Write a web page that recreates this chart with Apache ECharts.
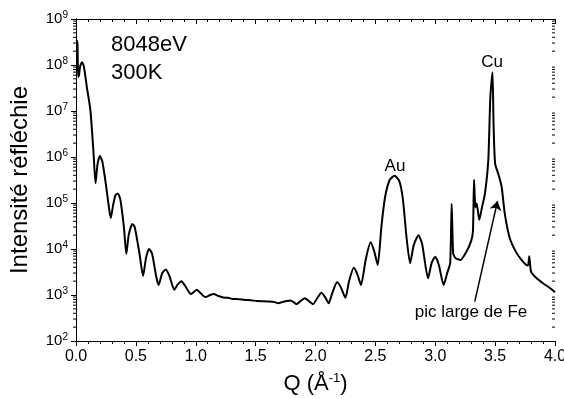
<!DOCTYPE html>
<html>
<head>
<meta charset="utf-8">
<script src="https://cdn.jsdelivr.net/npm/echarts@6/dist/echarts.min.js"></script>
<style>
  html, body { margin: 0; padding: 0; background: #fff; }
  #chart { width: 564px; height: 399px; }
</style>
</head>
<body>
<div id="chart"></div>
<script>
// Q (Å^-1)
const qValues = [
  0.005, 0.012, 0.018, 0.025, 0.035, 0.05, 0.065, 0.09, 0.12, 0.145, 0.163,
  0.18, 0.20, 0.22, 0.25, 0.275, 0.29, 0.31, 0.33, 0.35, 0.37, 0.40, 0.42,
  0.44, 0.47, 0.49, 0.53, 0.56, 0.585, 0.61, 0.635, 0.67, 0.69, 0.72, 0.75,
  0.78, 0.82, 0.85, 0.88, 0.91, 0.96, 0.99, 1.01, 1.04, 1.08, 1.12, 1.15,
  1.19, 1.23, 1.27, 1.31, 1.36, 1.41, 1.46, 1.51, 1.56, 1.61, 1.66, 1.69,
  1.72, 1.76, 1.79, 1.82, 1.84, 1.87, 1.91, 1.94, 1.98, 2.01, 2.05, 2.08,
  2.11, 2.14, 2.18, 2.21, 2.25, 2.28, 2.32, 2.35, 2.38, 2.42, 2.46, 2.49,
  2.52, 2.55, 2.58, 2.62, 2.66, 2.70, 2.73, 2.76, 2.79, 2.82, 2.86, 2.89,
  2.94, 2.97, 3.00, 3.03, 3.07, 3.10, 3.125, 3.137, 3.15, 3.17, 3.21, 3.26,
  3.30, 3.315, 3.324, 3.335, 3.346, 3.368, 3.39, 3.415, 3.443, 3.46, 3.478,
  3.487, 3.50, 3.53, 3.555, 3.58, 3.62, 3.67, 3.72, 3.76, 3.775, 3.785, 3.80,
  3.84, 3.90, 3.96, 4.00
];

// intensité réfléchie
const intensity = [
  3.5e8, 3.0e8, 5.5e7, 6.0e7, 9.5e7, 1.15e8, 9.5e7, 3.4e7, 1.05e7, 1.4e6, 2.7e5,
  7e5, 1.05e6, 8e5, 2.5e5, 8e4, 4.7e4, 9e4, 1.5e5, 1.6e5, 1.2e5, 3e4, 7.8e3,
  2e4, 3.5e4, 3e4, 8e3, 2.6e3, 6.5e3, 1e4, 8e3, 2.5e3, 1.65e3, 3e3, 3.6e3,
  2.6e3, 1.3e3, 1.7e3, 2e3, 1.6e3, 1.05e3, 1.2e3, 1.3e3, 1.1e3, 900, 1000, 1050,
  950, 880, 870, 820, 810, 780, 770, 740, 730, 720, 700, 660,
  700, 740, 760, 690, 630, 720, 850, 760, 630, 820, 1120, 900,
  660, 1100, 1900, 1500, 870, 2000, 3900, 2800, 1650, 6000, 1.4e4, 9e3,
  4.5e3, 3e4, 1.3e5, 3.2e5, 3.9e5, 3.0e5, 1.2e5, 1.8e4, 4.9e3, 1.2e4, 2e4, 1.3e4,
  2.3e3, 5e3, 6.8e3, 4.5e3, 1.65e3, 3e3, 5e3, 9.5e4, 8e3, 6.3e3, 5.8e3, 8.7e3,
  1.5e4, 2.5e4, 3.2e5, 8e4, 9.8e4, 4.3e4, 8e4, 1.6e5, 8.5e5, 2.0e7, 7e7,
  5e6, 7.2e5, 4e5, 2.2e5, 6e4, 1.8e4, 9e3, 5.8e3, 4.5e3, 4.4e3, 7e3, 3.2e3,
  2.4e3, 1.8e3, 1.4e3, 1.15e3
];

// annotations
const arrowFrom = [3.33, 716];
const arrowTo = [3.52, 1.1e5];

// log minor tick positions (2..9 x 10^n)
const minorTickValues = [];
for (let e = 2; e < 9; e++) {
  for (let m = 2; m <= 9; m++) minorTickValues.push(m * Math.pow(10, e));
}

const chart = echarts.init(document.getElementById('chart'));
const font = 'Liberation Sans, Arial, sans-serif';

const seriesData = qValues.map((q, i) => [q, intensity[i]]);

const xBase = {
  type: 'value',
  min: 0,
  max: 4,
  interval: 0.5,
  splitLine: { show: false },
  axisLine: { lineStyle: { color: '#000', width: 1 } },
  minorTick: { show: true, splitNumber: 5, length: 3, lineStyle: { color: '#000' } }
};
const yBase = {
  type: 'log',
  logBase: 10,
  min: 1e2,
  max: 1e9,
  splitLine: { show: false },
  axisLine: { lineStyle: { color: '#000', width: 1 } },
  minorTick: { show: false }
};

const option = {
  backgroundColor: '#fff',
  animation: false,
  grid: { left: 76, right: 9, top: 19, bottom: 58, outerBoundsMode: 'none', containLabel: false },
  xAxis: [
    Object.assign({}, xBase, {
      position: 'bottom',
      name: 'Q (Å{sup|-1})',
      nameLocation: 'middle',
      nameGap: 31,
      nameTextStyle: {
        fontFamily: font, fontSize: 22, color: '#000',
        rich: { sup: { fontSize: 13, fontFamily: font, padding: [0, 0, 10, 0] } }
      },
      axisTick: { inside: false, length: 5, lineStyle: { color: '#000' } },
      axisLabel: { fontFamily: font, fontSize: 16, color: '#000', margin: 8,
        formatter: v => v.toFixed(1) }
    }),
    Object.assign({}, xBase, {
      position: 'top',
      axisTick: { inside: true, length: 5, lineStyle: { color: '#000' } },
      axisLabel: { show: false }
    })
  ],
  yAxis: [
    Object.assign({}, yBase, {
      position: 'left',
      name: 'Intensité réfléchie',
      nameLocation: 'middle',
      nameGap: 44,
      nameTextStyle: { fontFamily: font, fontSize: 24, color: '#000' },
      axisTick: { inside: false, length: 5, lineStyle: { color: '#000' } },
      axisLabel: {
        fontFamily: font, fontSize: 15, color: '#000', margin: 8,
        formatter: v => '10{sup|' + Math.round(Math.log10(v)) + '}',
        rich: { sup: { fontSize: 10, fontFamily: font, color: '#000', padding: [0, 0, 8, 0] } }
      }
    }),
    Object.assign({}, yBase, {
      position: 'right',
      axisTick: { inside: true, length: 5, lineStyle: { color: '#000' } },
      axisLabel: { show: false }
    })
  ],
  series: [
    {
      type: 'line',
      xAxisIndex: 0,
      yAxisIndex: 0,
      data: seriesData,
      showSymbol: false,
      smooth: 0.2,
      lineStyle: { color: '#000', width: 2 },
      markLine: {
        silent: true,
        symbol: ['none', 'arrow'],
        symbolSize: 9,
        label: { show: false },
        lineStyle: { color: '#000', width: 1.5, type: 'solid' },
        data: [[{ coord: arrowFrom }, { coord: arrowTo }]]
      }
    },
    {
      // log minor ticks, left outward and right inward
      type: 'custom',
      xAxisIndex: 0,
      yAxisIndex: 0,
      silent: true,
      clip: false,
      data: minorTickValues.map(v => [0, v]),
      renderItem: (params, api) => {
        const v = api.value(1);
        const l = api.coord([0, v]);
        const r = api.coord([4, v]);
        const st = { stroke: '#000', lineWidth: 1 };
        return {
          type: 'group',
          children: [
            { type: 'line', shape: { x1: l[0] - 3, y1: l[1], x2: l[0], y2: l[1] }, style: st },
            { type: 'line', shape: { x1: r[0] - 3, y1: r[1], x2: r[0], y2: r[1] }, style: st }
          ]
        };
      }
    }
  ],
  graphic: [
    { type: 'text', left: 111, top: 34, style: { text: '8048eV', font: '22px ' + font, fill: '#000' } },
    { type: 'text', left: 111, top: 62, style: { text: '300K', font: '22px ' + font, fill: '#000' } },
    { type: 'text', x: 395, y: 166, style: { text: 'Au', font: '17px ' + font, fill: '#000', align: 'center', verticalAlign: 'middle' } },
    { type: 'text', x: 492, y: 62, style: { text: 'Cu', font: '17px ' + font, fill: '#000', align: 'center', verticalAlign: 'middle' } },
    { type: 'text', x: 471, y: 312, style: { text: 'pic large de Fe', font: '17px ' + font, fill: '#000', align: 'center', verticalAlign: 'middle' } }
  ]
};

chart.setOption(option);
</script>
</body>
</html>
